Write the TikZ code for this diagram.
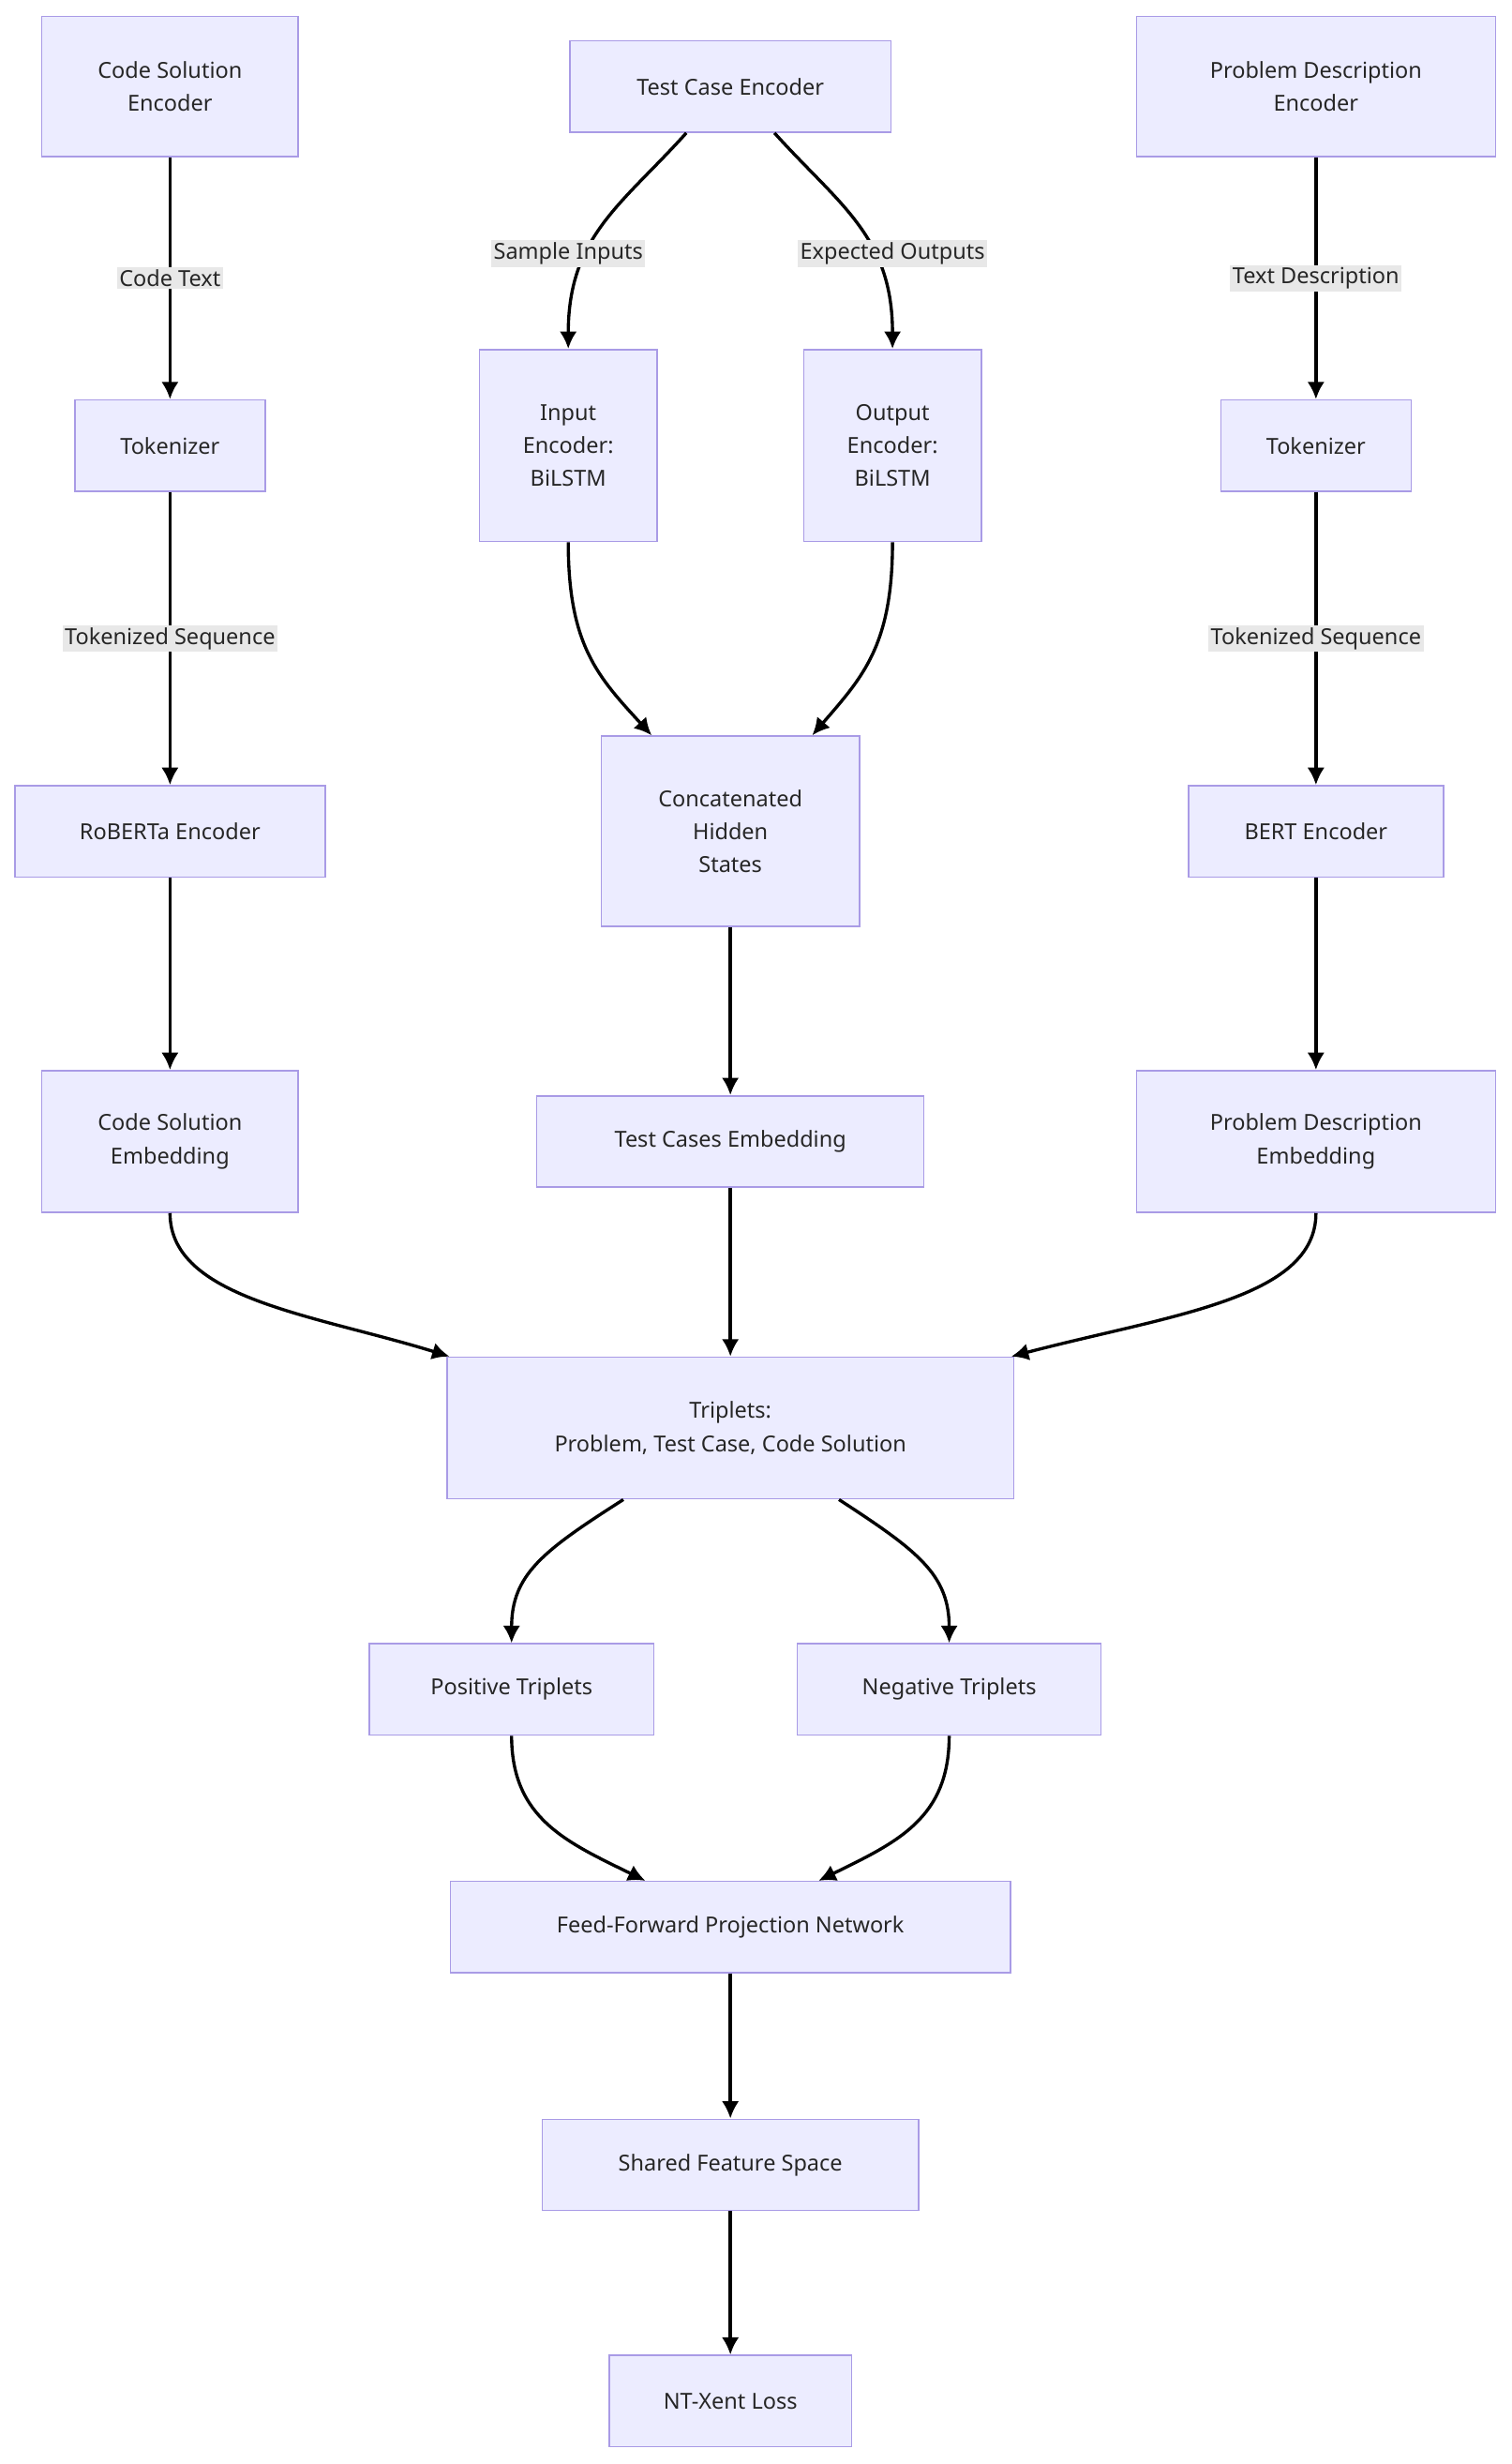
\documentclass[tikz,border=0pt]{standalone}
\usepackage{fontspec}
\setmainfont{Noto Sans}
\usepackage{xcolor}
\usetikzlibrary{arrows.meta,positioning}
\definecolor{boxFill}{HTML}{ECECFF}
\definecolor{boxLine}{HTML}{A99BE6}
\definecolor{labelFill}{HTML}{E8E8E8}

\begin{document}
\begin{tikzpicture}[x=1pt,y=-1pt]
  \tikzset{
    flowBox/.style={draw=boxLine, fill=boxFill, line width=0.9pt, inner sep=0pt, align=center, font=\fontsize{14}{21}\selectfont, text=black!85},
    flowLabel/.style={fill=labelFill, inner sep=1.5pt, font=\fontsize{14}{17}\selectfont, text=black!85},
    flowArrow/.style={line width=2pt, -{Latex[length=11pt,width=11pt]}}
  }
  \useasboundingbox (0,0) rectangle (960,1565);

% --- Encoders ---
  \node[flowBox, minimum width=163, minimum height=89] (codeEnc) at (108,55) {Code Solution\\Encoder};
  \node[flowBox, minimum width=204, minimum height=58] (testEnc) at (464,55) {Test Case Encoder};
  \node[flowBox, minimum width=228, minimum height=89] (probEnc) at (836,55) {Problem Description\\Encoder};

  \node[flowBox, minimum width=121, minimum height=58] (codeTok) at (108,283) {Tokenizer};
  \node[flowBox, minimum width=113, minimum height=122] (inEnc) at (361,283) {Input\\Encoder:\\BiLSTM};
  \node[flowBox, minimum width=113, minimum height=122] (outEnc) at (567,283) {Output\\Encoder:\\BiLSTM};
  \node[flowBox, minimum width=121, minimum height=58] (probTok) at (836,283) {Tokenizer};

  \node[flowBox, minimum width=197, minimum height=58] (roberta) at (108,528) {RoBERTa Encoder};
  \node[flowBox, minimum width=164, minimum height=121] (concat) at (464,528) {Concatenated\\Hidden\\States};
  \node[flowBox, minimum width=162, minimum height=58] (bert) at (836,528) {BERT Encoder};

  \node[flowBox, minimum width=163, minimum height=90] (codeEmb) at (108,725) {Code Solution\\Embedding};
  \node[flowBox, minimum width=246, minimum height=58] (testEmb) at (464,725) {Test Cases Embedding};
  \node[flowBox, minimum width=228, minimum height=90] (probEmb) at (836,725) {Problem Description\\Embedding};

% --- Training ---
  \node[flowBox, minimum width=360, minimum height=90] (triplets) at (464,907) {Triplets:\\Problem, Test Case, Code Solution};
  \node[flowBox, minimum width=181, minimum height=58] (posTrip) at (325,1073) {Positive Triplets};
  \node[flowBox, minimum width=193, minimum height=58] (negTrip) at (603,1073) {Negative Triplets};
  \node[flowBox, minimum width=356, minimum height=58] (ffn) at (464,1224) {Feed-Forward Projection Network};
  \node[flowBox, minimum width=239, minimum height=58] (shared) at (464,1375) {Shared Feature Space};
  \node[flowBox, minimum width=154, minimum height=58] (ntLoss) at (464,1525) {NT-Xent Loss};

% --- Connectors ---
  \draw[flowArrow] (codeEnc) -- node[flowLabel] {Code Text} (codeTok);
  \draw[flowArrow] (codeTok) -- node[flowLabel] {Tokenized Sequence} (roberta);
  \draw[flowArrow] (roberta) -- (codeEmb);
  \draw[flowArrow] (probEnc) -- node[flowLabel] {Text Description} (probTok);
  \draw[flowArrow] (probTok) -- node[flowLabel] {Tokenized Sequence} (bert);
  \draw[flowArrow] (bert) -- (probEmb);

  \draw[flowArrow] ([xshift=-28pt]testEnc.south) .. controls (395,130) and (361,150) .. (inEnc.north);
  \draw[flowArrow] ([xshift=28pt]testEnc.south) .. controls (533,130) and (567,150) .. (outEnc.north);
  \node[flowLabel] (sampleLbl) at (361,161) {Sample Inputs};
  \node[flowLabel] (expectLbl) at (567,161) {Expected Outputs};

  \draw[flowArrow] (inEnc.south) .. controls (361,410) and (380,430) .. ([xshift=-50pt]concat.north);
  \draw[flowArrow] (outEnc.south) .. controls (567,410) and (548,430) .. ([xshift=52pt]concat.north);
  \draw[flowArrow] (concat) -- (testEmb);

  \draw[flowArrow] (codeEmb.south) .. controls (108,825) and (200,835) .. ([xshift=2pt]triplets.north west);
  \draw[flowArrow] (testEmb) -- (triplets);
  \draw[flowArrow] (probEmb.south) .. controls (836,825) and (744,835) .. ([xshift=-2pt]triplets.north east);

  \draw[flowArrow] ([xshift=-68pt]triplets.south) .. controls (345,985) and (325,1000) .. (posTrip.north);
  \draw[flowArrow] ([xshift=69pt]triplets.south) .. controls (583,985) and (603,1000) .. (negTrip.north);
  \draw[flowArrow] (posTrip.south) .. controls (325,1155) and (360,1170) .. ([xshift=-54pt]ffn.north);
  \draw[flowArrow] (negTrip.south) .. controls (603,1155) and (570,1170) .. ([xshift=56pt]ffn.north);
  \draw[flowArrow] (ffn) -- (shared);
  \draw[flowArrow] (shared) -- (ntLoss);
\end{tikzpicture}
\end{document}
